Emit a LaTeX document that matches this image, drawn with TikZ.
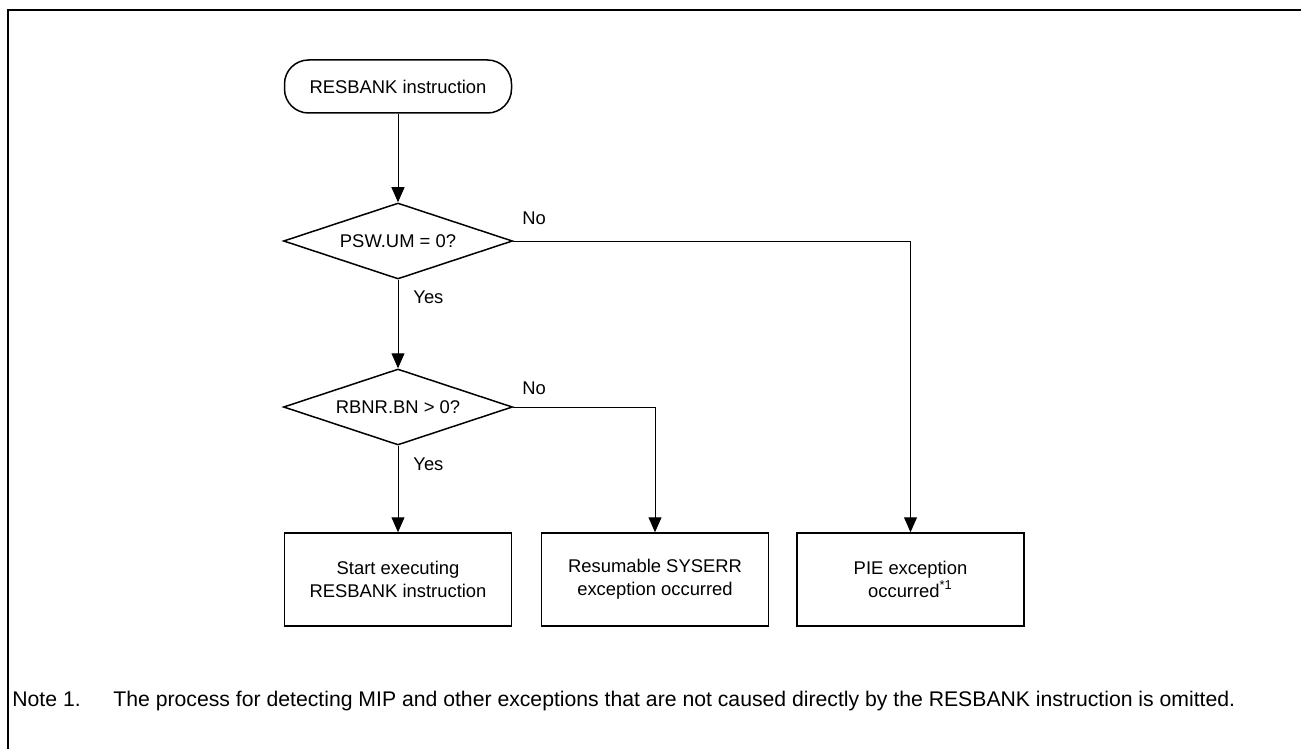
\documentclass[tikz,border=0pt]{standalone}
\usepackage{fontspec}
\setmainfont{Liberation Sans}
\usetikzlibrary{shapes.geometric,arrows.meta}
\begin{document}
\begin{tikzpicture}[x=0.5pt,y=-0.5pt,
  every node/.style={font=\fontsize{9.2}{11.3}\selectfont},
  term/.style={draw,line width=0.75pt,rounded corners=12pt,minimum width=113.5pt,minimum height=26.5pt,inner sep=0pt},
  decision/.style={draw,line width=0.75pt,diamond,shape aspect=3,minimum width=114.5pt,minimum height=38pt,inner sep=0pt},
  procbox/.style={draw,line width=0.75pt,rectangle,minimum width=113.5pt,minimum height=46.5pt,inner sep=0pt,align=center},
  arr/.style={line width=0.5pt,-{Triangle[length=7.5pt,width=6.5pt]}},
  lbl/.style={inner sep=0pt,anchor=west},
  notestyle/.style={inner sep=0pt,anchor=base west,font=\fontsize{10.6}{12.7}\selectfont}]
\useasboundingbox (0,0) rectangle (1301,749);
\draw[line width=1.25pt] (8,749) -- (8,10) -- (1301,10);

\node[term] (start) at (398,86.5) {RESBANK instruction};
\node[decision] (d1) at (398,241) {PSW.UM = 0?};
\node[decision] (d2) at (398,407) {RBNR.BN > 0?};
\node[procbox] (exec) at (398,579.5) {Start executing\\RESBANK instruction};
\node[procbox] (sys) at (655,579.5) {Resumable SYSERR\\exception occurred};
\node[procbox] (pie) at (910.5,579.5) {PIE exception\\occurred\textsuperscript{*1}};

\draw[arr] (start) -- (d1);
\draw[arr] (d1) -- (d2);
\draw[arr] (d2) -- (exec);
\draw[arr] (d1.east) -| (pie.north);
\draw[arr] (d2.east) -| (sys.north);

\node[lbl] (no1) at (522,218) {No};
\node[lbl] (yes1) at (413,297) {Yes};
\node[lbl] (no2) at (522,388) {No};
\node[lbl] (yes2) at (413,464) {Yes};

\node[notestyle] (note) at (12,706) {Note 1.};
\node[notestyle] (notetext) at (113,706) {The process for detecting MIP and other exceptions that are not caused directly by the RESBANK instruction is omitted.};
\end{tikzpicture}
\end{document}
